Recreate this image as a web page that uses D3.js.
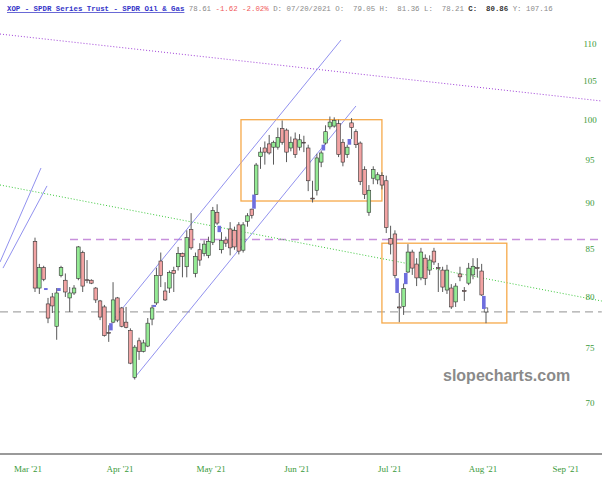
<!DOCTYPE html>
<html>
<head>
<meta charset="utf-8">
<style>
  body { margin: 0; background: #fff; }
</style>
</head>
<body>
<script src="https://cdn.jsdelivr.net/npm/d3@7"></script>
<div id="chart"></div>
<script>

// daily candles, oldest first
const open  = [85.8,80.9,83.0,79.3,80.0,77.1,82.2,81.7,79.9,80.4, 81.9,84.6,81.75,81.7,80.9,79.6,79.0,76.5,77.5,79.9,
               78.9,77.5,76.7,72.3,75.7,74.7,75.2,77.8,79.4,83.7, 80.6,80.9,82.7,83.1,84.5,83.1,87.1,82.4,84.9,84.5,
               84.3,85.7,89.0,84.9,85.95,87.15,87.0,87.6,84.85,88.0, 89.35,91.0,95.45,96.5,97.0,96.6,96.6,98.9,98.7,96.5,
               97.6,96.6,97.2,96.5,90.6,91.5,94.8,97.1,99.1,99.2, 99.5,97.2,95.7,99.6,98.5,97.1,93.9,89.0,92.9,92.7,
               93.2,92.6,86.1,86.6,79.0,79.05,82.55,84.65,83.38,81.94, 84.0,82.75,84.75,83.0,82.75,80.7,80.9,79.5,82.35,80.65,
               81.4,82.25,83.0,82.65,78.5];
const high  = [86.2,83.4,83.2,79.9,80.4,80.9,83.2,82.4,81.0,81.2, 85.3,84.8,83.8,81.8,81.0,79.7,79.2,77.2,81.5,80.0,
               79.0,79.0,76.9,75.3,76.0,75.8,77.9,79.2,83.0,84.6, 81.5,82.7,83.1,85.2,84.6,87.0,88.9,84.6,85.6,85.9,
               86.3,89.6,89.9,86.8,86.3,87.9,87.4,87.9,87.9,88.9, 89.4,94.7,96.6,97.3,98.1,97.4,99.0,99.9,98.9,97.9,
               98.4,98.2,98.0,96.9,92.6,95.8,96.2,99.3,100.4,100.3, 100.0,97.6,96.9,100.2,98.8,97.3,94.3,92.1,94.3,93.6,
               93.6,93.2,87.5,87.0,80.4,81.36,85.5,84.9,84.0,85.1, 84.4,84.3,85.1,83.5,83.1,83.3,81.3,81.4,83.1,81.0,
               83.5,84.0,84.0,83.4,78.9];
const low   = [80.5,80.3,81.6,77.4,78.4,75.8,82.0,80.0,78.5,80.2, 81.7,80.5,81.4,81.3,79.4,77.7,76.1,75.6,77.4,77.5,
               77.0,76.9,73.5,72.1,73.9,74.6,75.1,77.2,79.2,81.0, 79.6,80.4,80.5,82.7,82.0,82.0,84.9,82.0,83.2,84.2,
               84.0,85.4,87.6,84.5,85.2,84.3,84.9,84.4,84.6,87.4, 88.3,91.0,94.0,94.5,95.7,94.5,96.3,96.9,94.8,96.1,
               95.3,96.2,96.0,91.4,90.1,90.9,94.2,96.9,98.8,99.0, 95.4,94.3,95.3,97.6,96.5,92.1,90.5,88.6,92.2,92.2,
               91.6,86.7,84.4,81.9,77.5,78.21,82.45,82.25,81.1,81.7, 81.2,82.25,83.3,80.5,80.5,80.3,78.8,79.0,81.6,79.6,
               81.2,81.8,82.0,80.1,77.4];
const close = [80.9,83.0,81.8,77.9,79.1,80.4,83.0,80.5,80.4,80.9, 85.2,81.1,81.7,81.4,79.7,78.0,76.2,76.45,79.7,77.7,
               77.1,77.0,73.6,75.1,74.7,75.5,77.4,78.9,82.2,82.2, 79.7,82.5,82.4,84.5,84.2,86.2,85.1,84.2,83.8,85.5,
               85.8,89.2,87.8,85.9,85.6,85.1,85.2,84.75,87.6,88.6, 88.65,94.45,96.0,96.0,95.9,97.2,97.8,97.2,96.0,97.2,
               95.7,97.5,97.1,92.6,90.5,95.3,95.9,98.5,99.7,99.9, 95.7,94.8,96.6,99.0,96.9,92.5,91.0,91.5,93.9,93.3,
               92.1,87.3,85.5,82.2,78.9,80.86,84.65,82.96,81.94,84.65, 81.9,83.8,83.6,82.9,81.0,82.75,79.0,81.1,82.05,80.55,
               82.95,83.15,82.9,80.2,78.9];

// blue gap marks, drawn between candle i and i+1
const gapAfter  = [2, 5, 17, 27, 42, 50, 66, 72, 83, 85, 103];
const gapTop    = [80.9, 80.9, 77.4, 79.2, 87.5, 91.0, 96.9, 97.6, 81.9, 82.45, 80.1];
const gapBottom = [80.7, 80.6, 76.7, 79.0, 86.8, 89.4, 96.2, 96.9, 80.4, 81.3, 78.8];

const yTicks = [70, 75, 80, 85, 90, 95, 100, 105, 110];
const monthLabels = ["Mar '21", "Apr '21", "May '21", "Jun '21", "Jul '21", "Aug '21", "Sep '21"];
const monthAt = [-1.6, 19.6, 40.6, 60.4, 81.8, 103.3, 122.4];   // in candle units

// drawn lines: [candle0, price0, candle1, price1]
const channelLines = [[17.98, 77.71, 70.56, 110.55], [22.83, 72.2, 74.01, 101.74],
                      [-8.07, 83.59, 1.38, 94.1], [-7.38, 82.96, 2.77, 92.0]];
const purpleTrend = [-8.07, 111.39, 130.7, 102.38];
const greenTrend  = [-8.07, 92.11, 130.7, 79.59];
const purpleLevel = [8.07, 86.0, 130.7];
const grayLevel   = [-8.07, 78.5, 130.7];
// rectangles: [candle0, candle1, priceTop, priceBottom]
const boxes = [[47.5, 80.0, 100.0, 90.27], [80.0, 108.8, 85.6, 77.42]];

const title = "XOP - SPDR Series Trust - SPDR Oil & Gas";
const quote = [["78.61", "#8a8a8a"], ["-1.62", "#f05a5a"], ["-2.02%", "#f05a5a"], ["D: 07/20/2021", "#8a8a8a"],
               ["O:  79.05", "#8a8a8a"], ["H:  81.36", "#8a8a8a"], ["L:  78.21", "#8a8a8a"],
               ["C:  80.86", "#333"], ["Y: 107.16", "#8a8a8a"]];

const W = 602, H = 480;

const svg = d3.select("#chart")
  .append("svg")
    .attr("width", W)
    .attr("height", H)
    .style("font-family", "'Liberation Serif', serif");

const x = d3.scaleLinear().domain([0, close.length - 1]).range([35, 486]);
const y = d3.scaleLog().domain([70, 110]).range([403, 44]);

svg.append("clipPath").attr("id", "plot")
  .append("rect").attr("x", 0).attr("y", 20).attr("width", W).attr("height", 432);

const g = svg.append("g").attr("clip-path", "url(#plot)");

// levels
g.append("line")
    .attr("x1", x(grayLevel[0])).attr("x2", x(grayLevel[2]))
    .attr("y1", y(grayLevel[1])).attr("y2", y(grayLevel[1]))
    .attr("stroke", "#a8a8a8").attr("stroke-width", 1.2).attr("stroke-dasharray", "8,5");
g.append("line")
    .attr("x1", x(purpleLevel[0])).attr("x2", x(purpleLevel[2]))
    .attr("y1", y(purpleLevel[1])).attr("y2", y(purpleLevel[1]))
    .attr("stroke", "#c890dc").attr("stroke-width", 1.5).attr("stroke-dasharray", "8,5");

// trend lines
g.append("line")
    .attr("x1", x(purpleTrend[0])).attr("y1", y(purpleTrend[1]))
    .attr("x2", x(purpleTrend[2])).attr("y2", y(purpleTrend[3]))
    .attr("stroke", "#a040d8").attr("stroke-width", 1).attr("stroke-dasharray", "1,2");
g.append("line")
    .attr("x1", x(greenTrend[0])).attr("y1", y(greenTrend[1]))
    .attr("x2", x(greenTrend[2])).attr("y2", y(greenTrend[3]))
    .attr("stroke", "#3cc83c").attr("stroke-width", 1).attr("stroke-dasharray", "1,2");

g.selectAll("line.chan")
  .data(channelLines)
  .join("line")
    .attr("class", "chan")
    .attr("x1", d => x(d[0])).attr("y1", d => y(d[1]))
    .attr("x2", d => x(d[2])).attr("y2", d => y(d[3]))
    .attr("stroke", "#8484ec").attr("stroke-width", 0.9);

// boxes
g.selectAll("rect.box")
  .data(boxes)
  .join("rect")
    .attr("class", "box")
    .attr("x", d => x(d[0]))
    .attr("y", d => y(d[2]))
    .attr("width", d => x(d[1]) - x(d[0]))
    .attr("height", d => y(d[3]) - y(d[2]))
    .attr("fill", "none").attr("stroke", "#f6a94a").attr("stroke-width", 1.3);

// candles
const bw = 3.6;
const idx = d3.range(close.length);
const last = close.length - 1;

g.selectAll("line.wick")
  .data(idx)
  .join("line")
    .attr("class", "wick")
    .attr("x1", i => x(i)).attr("x2", i => x(i))
    .attr("y1", i => y(high[i])).attr("y2", i => y(low[i]))
    .attr("stroke", "#5a5a5a").attr("stroke-width", 1);

g.selectAll("rect.body")
  .data(idx)
  .join("rect")
    .attr("class", "body")
    .attr("x", i => x(i) - bw / 2)
    .attr("y", i => y(Math.max(open[i], close[i])))
    .attr("width", bw)
    .attr("height", i => Math.max(0.8, Math.abs(y(open[i]) - y(close[i]))))
    .attr("fill", i => i === last ? "#fff" : close[i] >= open[i] ? "#94ea94" : "#f2a3a3")
    .attr("stroke", "#333")
    .attr("stroke-width", 0.6);

g.selectAll("rect.gap")
  .data(gapAfter)
  .join("rect")
    .attr("class", "gap")
    .attr("x", (d, k) => x(d + 0.5) - bw / 2)
    .attr("y", (d, k) => y(gapTop[k]))
    .attr("width", bw)
    .attr("height", (d, k) => Math.max(1.5, y(gapBottom[k]) - y(gapTop[k])))
    .attr("fill", "#6e6ede");

// axes
svg.append("line")
    .attr("x1", 0).attr("x2", W).attr("y1", 454).attr("y2", 454)
    .attr("stroke", "#9a9a9a").attr("stroke-width", 2);

svg.selectAll("text.ytick")
  .data(yTicks)
  .join("text")
    .attr("class", "ytick")
    .attr("x", 590)
    .attr("y", d => y(d) + 3)
    .attr("text-anchor", "middle")
    .attr("font-size", 9)
    .attr("fill", "#3a9a3a")
    .text(d => d);

svg.selectAll("text.xtick")
  .data(monthLabels)
  .join("text")
    .attr("class", "xtick")
    .attr("x", (d, k) => x(monthAt[k]))
    .attr("y", 472)
    .attr("text-anchor", "middle")
    .attr("font-size", 9)
    .attr("fill", "#3a9a3a")
    .text(d => d);

// watermark
svg.append("text")
    .attr("x", 443).attr("y", 381)
    .attr("font-family", "'Liberation Sans', Arial, sans-serif")
    .attr("font-weight", "bold")
    .attr("font-size", 16)
    .attr("fill", "#8a8a8a")
    .text("slopecharts.com");

// header
const head = svg.append("text")
    .attr("x", 7)
    .attr("y", 11)
    .attr("xml:space", "preserve")
    .style("white-space", "pre")
    .attr("font-family", "'Liberation Mono', monospace")
    .attr("font-size", 7.4);
head.append("tspan")
    .attr("font-weight", "bold").attr("fill", "#3434c8")
    .attr("text-decoration", "underline")
    .text(title);
quote.forEach(q => {
  head.append("tspan").attr("fill", q[1])
      .attr("font-weight", q[0].startsWith("C:") ? "bold" : "normal")
      .text(" " + q[0]);
});

</script>
</body>
</html>
